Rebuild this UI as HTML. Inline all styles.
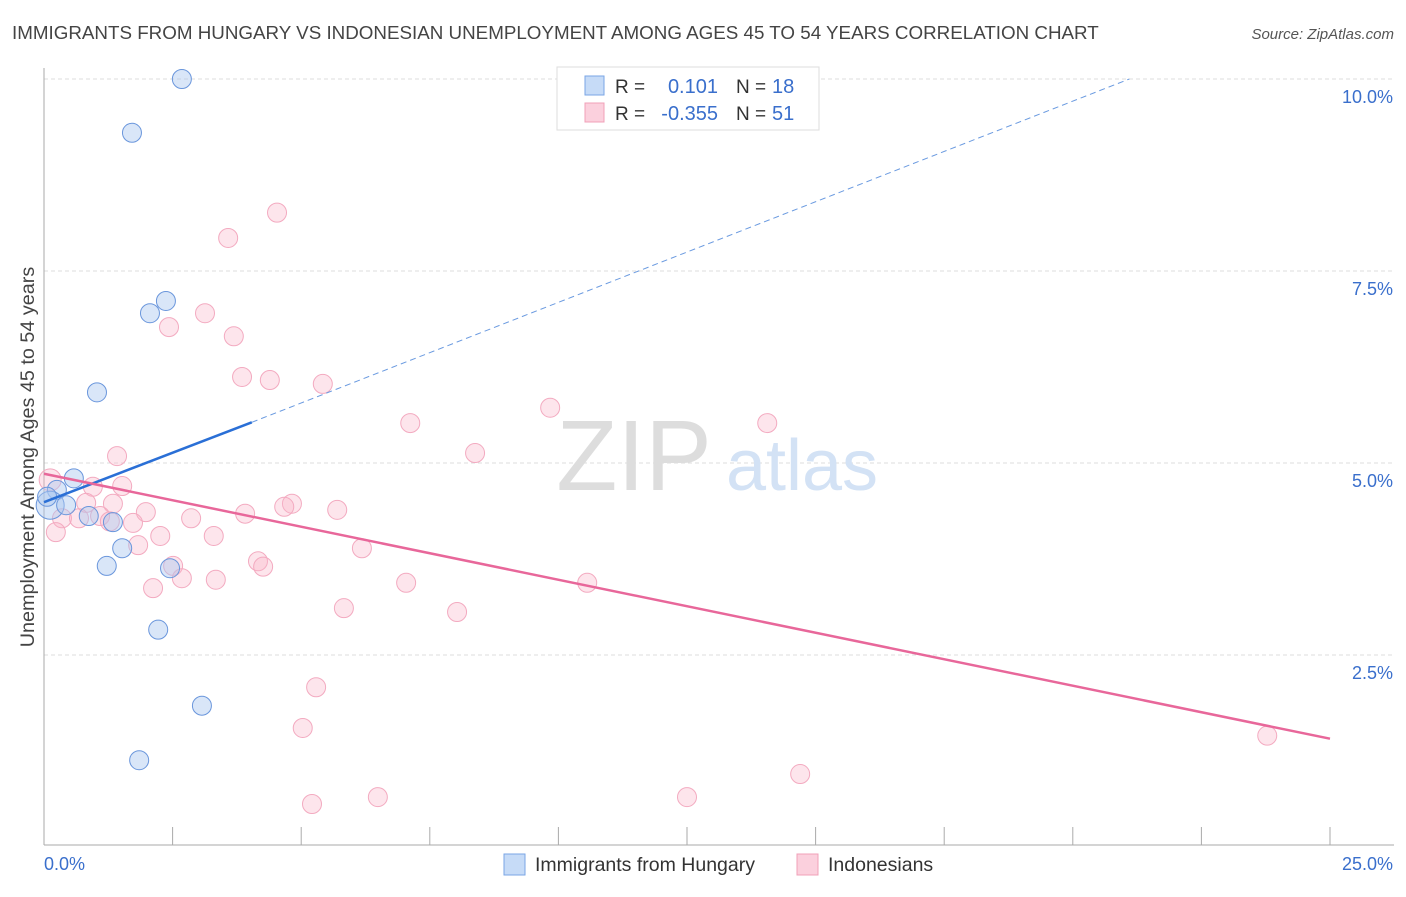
<!DOCTYPE html>
<html><head><meta charset="utf-8"><style>
body{margin:0;background:#fff;font-family:"Liberation Sans",sans-serif}
svg text{font-family:"Liberation Sans",sans-serif}
</style></head><body>
<svg id="chart" width="1406" height="892" xmlns="http://www.w3.org/2000/svg">
<text x="12" y="39" font-size="18.8" fill="#444">IMMIGRANTS FROM HUNGARY VS INDONESIAN UNEMPLOYMENT AMONG AGES 45 TO 54 YEARS CORRELATION CHART</text>
<text x="1394" y="39" font-size="15" fill="#555" text-anchor="end" font-style="italic">Source: ZipAtlas.com</text>
<g id="grid"></g>
<g><text x="634" y="490" font-size="100" fill="#ddd" font-family="Liberation Serif" text-anchor="middle">ZIP</text><text x="802" y="490" font-size="72" fill="#d3e2f5" text-anchor="middle">atlas</text></g>
<line x1="44" y1="845" x2="1394" y2="845" stroke="#aaa"/>
<line x1="44" y1="68" x2="44" y2="845" stroke="#aaa"/>
<g id="ticks"></g>
<text transform="translate(34,457) rotate(-90)" font-size="19.8" fill="#444" text-anchor="middle">Unemployment Among Ages 45 to 54 years</text>
<text x="44" y="870" font-size="18" fill="#3a6fcc">0.0%</text>
<text x="1393" y="870" font-size="18" fill="#3a6fcc" text-anchor="end">25.0%</text>
<g id="pts"></g>
<g id="lines"></g>
<g>
<rect x="557" y="67" width="262" height="63" fill="#fff" stroke="#ddd"/>
<rect x="585" y="76" width="19" height="19" fill="#c6dbf7" stroke="#7aa6e6"/>
<rect x="585" y="103" width="19" height="19" fill="#fbd0dd" stroke="#f0a0b8"/>
<text x="615" y="93" font-size="19" fill="#333">R =</text><text x="718" y="93" font-size="20" fill="#3a6fcc" text-anchor="end">0.101</text>
<text x="736" y="93" font-size="19" fill="#333">N =</text><text x="772" y="93" font-size="20" fill="#3a6fcc">18</text>
<text x="615" y="120" font-size="19" fill="#333">R =</text><text x="718" y="120" font-size="20" fill="#3a6fcc" text-anchor="end">-0.355</text>
<text x="736" y="120" font-size="19" fill="#333">N =</text><text x="772" y="120" font-size="20" fill="#3a6fcc">51</text>
</g>
<g><rect x="504" y="854" width="21" height="21" fill="#c6dbf7" stroke="#7aa6e6"/><text x="535" y="871" font-size="19.5" fill="#333">Immigrants from Hungary</text></g>
<g><rect x="797" y="854" width="21" height="21" fill="#fbd0dd" stroke="#f0a0b8"/><text x="828" y="871" font-size="19.5" fill="#333">Indonesians</text></g>
</svg>
<script>
const yTicks=[2.5,5,7.5,10];
const yTickLabels=["2.5%","5.0%","7.5%","10.0%"];
const blueX=[2.68,1.71,2.37,2.06,1.03,0.58,0.25,0.12,0.43,0.87,1.34,1.52,1.22,2.45,2.22,3.07,1.85,0.06];
const blueY=[10.0,9.30,7.11,6.95,5.92,4.80,4.65,4.45,4.45,4.31,4.23,3.89,3.66,3.63,2.83,1.84,1.13,4.56];
const pinkX=[4.53,3.58,3.13,2.43,3.69,3.85,4.39,5.42,9.84,7.12,14.06,8.38,1.42,0.12,1.52,0.95,0.82,1.34,4.82,4.67,5.70,1.98,0.35,2.86,3.91,1.09,0.68,1.28,1.73,0.23,3.30,2.26,1.83,6.18,4.16,4.26,2.51,2.68,3.34,2.12,7.04,10.56,5.83,8.03,5.29,5.03,23.78,14.70,6.49,12.50,5.21];
const pinkY=[8.26,7.93,6.95,6.77,6.65,6.12,6.08,6.03,5.72,5.52,5.52,5.13,5.09,4.78,4.70,4.69,4.48,4.47,4.47,4.43,4.39,4.36,4.28,4.28,4.34,4.31,4.28,4.24,4.22,4.10,4.05,4.05,3.93,3.89,3.72,3.65,3.66,3.50,3.48,3.37,3.44,3.44,3.11,3.06,2.08,1.55,1.45,0.95,0.65,0.65,0.56];
const blueTrend=[[0,4.49],[4.04,5.53],[21.1,10.0]];
const pinkTrend=[[0,4.86],[25,1.41]];
const X=v=>44+v*51.44, Y=v=>847-v*76.8;
const NS="http://www.w3.org/2000/svg";
function mk(tag,attrs,parent){const e=document.createElementNS(NS,tag);for(const k in attrs)e.setAttribute(k,attrs[k]);document.getElementById(parent).appendChild(e);return e;}
yTicks.forEach((t,i)=>{
 const l=mk('line',{x1:44,x2:1394,y1:Y(t),y2:Y(t),stroke:'#ddd','stroke-dasharray':'4,3'},'grid');
 
 
 const tx=mk('text',{x:1393,y:Y(t)+24,'font-size':18,fill:'#3a6fcc','text-anchor':'end'},'grid');
 tx.textContent=yTickLabels[i];
 
 
});
for(let i=1;i<=10;i++){const t=mk('line',{x1:X(i*2.5),x2:X(i*2.5),y1:827,y2:845,stroke:'#aaa'},'ticks');
 
 }
pinkX.forEach((x,i)=>{const c=mk('circle',{cx:X(x),cy:Y(pinkY[i]),r:i==13?11:9.5,fill:'rgba(248,180,200,0.35)',stroke:'#f3aac0','stroke-width':1},'pts');
 
 });
blueX.forEach((x,i)=>{const c=mk('circle',{cx:X(x),cy:Y(blueY[i]),r:i==7?14:9.5,fill:'rgba(170,200,240,0.45)',stroke:'#6a96dc','stroke-width':1},'pts');
 
 });
const b1=mk('line',{x1:X(blueTrend[0][0]),y1:Y(blueTrend[0][1]),x2:X(blueTrend[1][0]),y2:Y(blueTrend[1][1]),stroke:'#2a6fd6','stroke-width':2.5},'lines');


const b2=mk('line',{x1:X(blueTrend[1][0]),y1:Y(blueTrend[1][1]),x2:X(blueTrend[2][0]),y2:Y(blueTrend[2][1]),stroke:'#6a9ae0','stroke-width':1,'stroke-dasharray':'6,4'},'lines');


const p1=mk('line',{x1:X(pinkTrend[0][0]),y1:Y(pinkTrend[0][1]),x2:X(pinkTrend[1][0]),y2:Y(pinkTrend[1][1]),stroke:'#e8679a','stroke-width':2.5},'lines');


</script>
</body></html>
